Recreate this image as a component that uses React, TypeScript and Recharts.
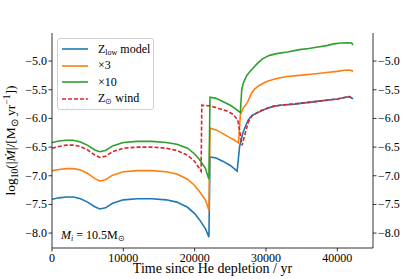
import React from 'react';
import { LineChart, Line, XAxis, YAxis } from 'recharts';

// time since He depletion (yr) and log10 mass-loss rate for each run
const lowTime = [0, 1000, 2000, 3000, 4000, 5000, 6000, 6700, 7500, 8500, 10000, 12000, 14000, 16000, 17500, 19000, 20000, 20700, 21500, 22000, 22150, 23000, 24000, 25000, 25500, 25950, 26300, 26700, 27000, 27500, 28000, 29000, 30000, 31000, 32000, 34000, 36000, 38000, 40000, 41000, 41700, 42200];
const lowRate = [-7.41, -7.385, -7.37, -7.37, -7.4, -7.46, -7.54, -7.58, -7.56, -7.48, -7.42, -7.4, -7.4, -7.42, -7.46, -7.55, -7.66, -7.77, -7.92, -8.07, -6.67, -6.69, -6.75, -6.82, -6.87, -6.92, -6.49, -6.28, -6.17, -6.03, -5.95, -5.89, -5.83, -5.79, -5.77, -5.75, -5.72, -5.69, -5.66, -5.635, -5.62, -5.66];

const x3Time = [0, 1000, 2000, 3000, 4000, 5000, 6000, 6700, 7500, 8500, 10000, 12000, 14000, 16000, 17500, 19000, 20000, 20700, 21500, 22000, 22150, 23000, 24000, 25000, 25600, 26150, 26400, 26800, 27400, 28000, 28400, 29000, 30000, 31000, 32000, 33000, 35000, 37000, 38500, 40000, 41000, 41700, 42200];
const x3Rate = [-6.91, -6.89, -6.875, -6.875, -6.9, -6.96, -7.05, -7.09, -7.07, -6.99, -6.93, -6.91, -6.91, -6.93, -6.97, -7.06, -7.17, -7.28, -7.42, -7.6, -6.17, -6.2, -6.27, -6.34, -6.38, -6.43, -5.94, -5.82, -5.72, -5.55, -5.49, -5.43, -5.36, -5.32, -5.29, -5.27, -5.245, -5.22, -5.2, -5.18, -5.16, -5.155, -5.175];

const x10Time = [0, 1000, 2000, 3000, 4000, 5000, 6000, 6700, 7500, 8500, 10000, 12000, 14000, 16000, 17500, 19000, 20000, 20700, 21500, 22000, 22150, 23000, 24000, 25000, 25700, 26400, 26600, 26800, 27300, 27700, 28200, 28800, 29500, 30500, 31500, 33000, 34700, 36000, 37500, 38500, 39500, 40500, 41500, 42000, 42200];
const x10Rate = [-6.42, -6.395, -6.38, -6.38, -6.41, -6.47, -6.55, -6.58, -6.56, -6.48, -6.42, -6.4, -6.4, -6.42, -6.45, -6.52, -6.62, -6.72, -6.87, -7.06, -5.63, -5.65, -5.71, -5.77, -5.83, -5.9, -5.5, -5.39, -5.25, -5.19, -5.12, -5.04, -4.96, -4.9, -4.87, -4.84, -4.8, -4.78, -4.75, -4.73, -4.7, -4.685, -4.68, -4.685, -4.72];

const solarTime = [0, 1000, 2000, 3000, 4000, 5000, 6000, 6700, 7500, 8500, 10000, 12000, 14000, 16000, 17500, 19000, 20000, 20900, 21000, 22000, 23000, 24000, 24700, 25400, 26050, 26650, 27000, 27500, 28000, 29000, 30000, 31000, 32000, 34000, 36000, 38000, 40000, 41000, 41700, 42200];
const solarRate = [-6.52, -6.49, -6.465, -6.465, -6.49, -6.55, -6.64, -6.68, -6.66, -6.58, -6.52, -6.5, -6.5, -6.52, -6.56, -6.64, -6.75, -6.92, -5.77, -5.78, -5.81, -5.85, -5.88, -5.93, -6.03, -6.47, -6.3, -6.07, -5.96, -5.88, -5.83, -5.79, -5.77, -5.745, -5.72, -5.69, -5.66, -5.635, -5.62, -5.66];

const xTicks = [0, 10000, 20000, 30000, 40000];
const yTicks = [-8, -7.5, -7, -6.5, -6, -5.5, -5];

const font = '"Liberation Serif", "Times New Roman", serif';

const toPoints = (t: number[], v: number[]) => t.map((x, i) => ({ t: x, v: v[i] }));

const series = [
  { key: 'low', data: toPoints(lowTime, lowRate), color: '#1f77b4', dash: undefined },
  { key: 'x3', data: toPoints(x3Time, x3Rate), color: '#ff7f0e', dash: undefined },
  { key: 'x10', data: toPoints(x10Time, x10Rate), color: '#2ca02c', dash: undefined },
  { key: 'solar', data: toPoints(solarTime, solarRate), color: '#d62728', dash: '4 2' },
];

const fmtY = (v: number) => (v < 0 ? '\u2212' : '') + Math.abs(v).toFixed(1);

const subStyle = { fontSize: 8, verticalAlign: -2 };

const legendLabels: Record<string, React.ReactNode> = {
  low: <span>Z<span style={subStyle}>low</span> model</span>,
  x3: <span>&times;3</span>,
  x10: <span>&times;10</span>,
  solar: <span>Z<span style={subStyle}>&#x2299;</span> wind</span>,
};

const XTick = ({ x, y, payload }: any) => (
  <text x={x} y={y + 8} textAnchor="middle" fontFamily={font} fontSize={12} fill="#000">
    {payload.value}
  </text>
);

const YTickLeft = ({ x, y, payload }: any) => (
  <text x={x} y={y + 4} textAnchor="end" fontFamily={font} fontSize={12} fill="#000">
    {fmtY(payload.value)}
  </text>
);

const YTickRight = ({ x, y, payload }: any) => (
  <text x={x} y={y + 4} textAnchor="start" fontFamily={font} fontSize={12} fill="#000">
    {fmtY(payload.value)}
  </text>
);

const YLabel = (props: any) => {
  const vb = props.viewBox;
  const cy = vb.y + vb.height / 2;
  const cx = 15;
  return (
    <text
      x={cx}
      y={cy}
      transform={`rotate(-90 ${cx} ${cy})`}
      textAnchor="middle"
      fontFamily={font}
      fontSize={13.5}
      fill="#000"
    >
      log<tspan fontSize={9.5} dy={3}>10</tspan>
      <tspan dy={-3}>(|</tspan>
      <tspan fontStyle="italic">{'\u1E40'}</tspan>
      <tspan>|/[M</tspan>
      <tspan fontSize={9.5} dy={3}>{'\u2299'}</tspan>
      <tspan dy={-3}> yr</tspan>
      <tspan fontSize={9.5} dy={-5}>{'\u22121'}</tspan>
      <tspan dy={5}>])</tspan>
    </text>
  );
};

const XLabel = (props: any) => {
  const vb = props.viewBox;
  return (
    <text x={vb.x + vb.width / 2} y={273} textAnchor="middle" fontFamily={font} fontSize={14} fill="#000">
      Time since He depletion / yr
    </text>
  );
};

const axisStroke = { stroke: '#000', strokeWidth: 0.8 };

export default function App() {
  return (
    <div style={{ position: 'absolute', left: 0, top: 0, width: 415, height: 279, background: '#fff', fontFamily: font }}>
      <LineChart width={415} height={279} margin={{ top: 33, right: 0, bottom: 0, left: 0 }}>
        <XAxis
          dataKey="t"
          type="number"
          domain={[0, 45000]}
          ticks={xTicks}
          allowDataOverflow
          height={31}
          tickSize={3.5}
          tickMargin={2}
          tick={<XTick />}
          axisLine={axisStroke}
          tickLine={axisStroke}
          label={<XLabel />}
        />
        <XAxis
          xAxisId="top"
          orientation="top"
          type="number"
          domain={[0, 45000]}
          height={0}
          tick={false}
          tickLine={false}
          axisLine={axisStroke}
        />
        <YAxis
          yAxisId="left"
          type="number"
          domain={[-8.26, -4.51]}
          ticks={yTicks}
          allowDataOverflow
          width={52}
          tickSize={3.5}
          tickMargin={1.5}
          tick={<YTickLeft />}
          axisLine={axisStroke}
          tickLine={axisStroke}
          label={<YLabel />}
        />
        <YAxis
          yAxisId="right"
          orientation="right"
          type="number"
          domain={[-8.26, -4.51]}
          ticks={yTicks}
          allowDataOverflow
          width={42}
          tickSize={3.5}
          tickMargin={1.5}
          tick={<YTickRight />}
          axisLine={axisStroke}
          tickLine={axisStroke}
        />
        {series.map((s) => (
          <Line
            key={s.key}
            yAxisId="left"
            data={s.data}
            dataKey="v"
            type="linear"
            stroke={s.color}
            strokeWidth={1.6}
            strokeDasharray={s.dash}
            dot={false}
            activeDot={false}
            isAnimationActive={false}
          />
        ))}
      </LineChart>
      <div
        style={{
          position: 'absolute',
          left: 57,
          top: 38,
          width: 97,
          boxSizing: 'border-box',
          border: '1px solid #d0d0d0',
          borderRadius: 3,
          background: 'rgba(255,255,255,0.8)',
          padding: '2px 0 2px 4px',
          fontSize: 12,
          color: '#000',
          whiteSpace: 'nowrap',
        }}
      >
        {series.map((s) => (
          <div key={s.key} style={{ display: 'flex', alignItems: 'center', height: 16.5 }}>
            <svg width={26} height={6} style={{ marginRight: 10, flex: 'none' }}>
              <line x1={0} y1={3} x2={26} y2={3} stroke={s.color} strokeWidth={1.6} strokeDasharray={s.dash} />
            </svg>
            {legendLabels[s.key]}
          </div>
        ))}
      </div>
      <div
        style={{
          position: 'absolute',
          left: 61,
          top: 228,
          fontSize: 12,
          color: '#000',
          whiteSpace: 'nowrap',
          lineHeight: '14px',
        }}
      >
        <i>M</i>
        <span style={subStyle}><i>i</i></span> = 10.5M<span style={subStyle}>&#x2299;</span>
      </div>
    </div>
  );
}
